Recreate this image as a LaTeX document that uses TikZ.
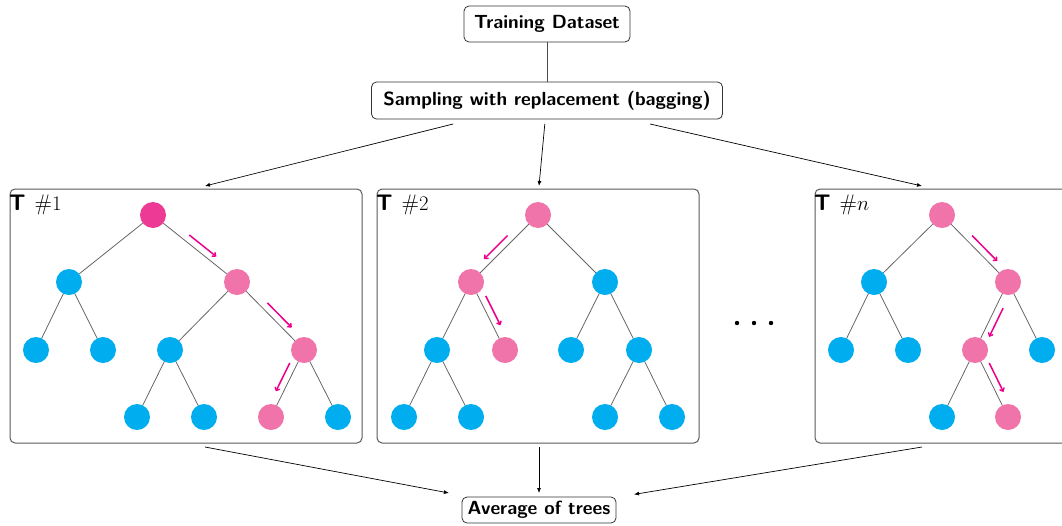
\documentclass[tikz,border=0pt]{standalone}
\usepackage{fontspec}
\usetikzlibrary{calc,arrows.meta}
\definecolor{treecyan}{HTML}{00ADEF}
\definecolor{treepink}{HTML}{F074A9}
\definecolor{treeroot}{HTML}{EC3A95}
\definecolor{pathmag}{HTML}{EC008C}
\begin{document}
\begin{tikzpicture}[x=1pt,y=-1pt,
  title/.style={draw=black!80, rounded corners=5pt, font=\fontsize{19}{22}\selectfont\sffamily\bfseries, inner sep=0pt, outer sep=0pt, line width=0.8pt},
  frame/.style={draw=black!65, rounded corners=5pt, line width=1pt, inner sep=0pt, outer sep=0pt},
  leaf/.style={circle, inner sep=0pt, outer sep=0pt, minimum size=26pt},
  cn/.style={leaf, fill=treecyan},
  pn/.style={leaf, fill=treepink},
  rn/.style={leaf, fill=treeroot},
  treeline/.style={draw=black!60, line width=0.8pt},
  conn/.style={draw=black, line width=0.7pt, -{Latex[length=5pt,width=4pt]}},
  walk/.style={draw=pathmag, line width=1.5pt, -{To[length=4pt,width=6pt]}},
  tlabel/.style={anchor=west, inner sep=0pt, font=\fontsize{22.5}{26}\selectfont},
]
\clip (0,0) rectangle (1062,525);
\useasboundingbox (0,0) rectangle (1062,525);

% top
\node[title, minimum width=166pt, minimum height=36pt] (train) at (547,24) {Training Dataset};
\node[title, minimum width=351pt, minimum height=37pt, outer ysep=5pt] (samp) at (547,100.5) {Sampling with replacement (bagging)};
\draw[black!70, line width=0.8pt, shorten >=-5pt] (train) -- (samp);

% frames
\node[frame, minimum width=352pt, minimum height=254pt] (box1) at (186,316) {};
\node[frame, minimum width=322pt, minimum height=254pt] (box2) at (538,316) {};
\node[frame, minimum width=352pt, minimum height=254pt] (box3) at (991,316) {};

\node[tlabel] (lab1) at (9,205) {{\sffamily\bfseries T}\hspace{0.4em}$\#1$};
\node[tlabel] (lab2) at (376,205) {{\sffamily\bfseries T}\hspace{0.4em}$\#2$};
\node[tlabel] (lab3) at (814,205) {{\sffamily\bfseries T}\hspace{0.4em}$\#n$};

% connectors
\coordinate (in1) at (205,186);
\coordinate (in2) at (539,186);
\coordinate (in3) at (922,186);
\draw[conn] (samp) -- (in1);
\draw[conn] (samp) -- (in2);
\draw[conn] (samp) -- (in3);

\node[title, minimum width=154pt, minimum height=26pt, outer xsep=18pt, outer ysep=4pt] (avg) at (539,510) {Average of trees};
\coordinate (out1) at (205,447);
\coordinate (out2) at (539,447);
\coordinate (out3) at (922,447);
\draw[conn] (out1) -- (avg);
\draw[conn] (out2) -- (avg);
\draw[conn] (out3) -- (avg);

% tree 1
\node[rn] (a) at (153,215) {};
\node[cn] (aL) at (69,282) {};
\node[pn] (aR) at (237,282) {};
\node[cn] (aLL) at (36,350) {};
\node[cn] (aLR) at (103,350) {};
\node[cn] (aRL) at (170,350) {};
\node[pn] (aRR) at (304,350) {};
\node[cn] (aRLL) at (137,417) {};
\node[cn] (aRLR) at (204,417) {};
\node[pn] (aRRL) at (271,417) {};
\node[cn] (aRRR) at (338,417) {};
\draw[treeline] (a) -- (aL) (a) -- (aR) (aL) -- (aLL) (aL) -- (aLR)
  (aR) -- (aRL) (aR) -- (aRR) (aRL) -- (aRLL) (aRL) -- (aRLR)
  (aRR) -- (aRRL) (aRR) -- (aRRR);
\draw[walk] ($(a)!0.38!(aR)!7pt!90:(aR)$) -- ($(a)!0.70!(aR)!7pt!90:(aR)$);
\draw[walk] ($(aR)!0.38!(aRR)!7pt!90:(aRR)$) -- ($(aR)!0.74!(aRR)!7pt!90:(aRR)$);
\draw[walk] ($(aRR)!0.24!(aRRL)!7pt!-90:(aRRL)$) -- ($(aRR)!0.66!(aRRL)!7pt!-90:(aRRL)$);

% tree 2
\node[pn] (b) at (538,215) {};
\node[pn] (bL) at (471,282) {};
\node[cn] (bR) at (605,282) {};
\node[cn] (bLL) at (437,350) {};
\node[pn] (bLR) at (505,350) {};
\node[cn] (bRL) at (571,350) {};
\node[cn] (bRR) at (639,350) {};
\node[cn] (bLLL) at (404,417) {};
\node[cn] (bLLR) at (471,417) {};
\node[cn] (bRRL) at (605,417) {};
\node[cn] (bRRR) at (672,417) {};
\draw[treeline] (b) -- (bL) (b) -- (bR) (bL) -- (bLL) (bL) -- (bLR)
  (bR) -- (bRL) (bR) -- (bRR) (bLL) -- (bLLL) (bLL) -- (bLLR)
  (bRR) -- (bRRL) (bRR) -- (bRRR);
\draw[walk] ($(b)!0.38!(bL)!7pt!-90:(bL)$) -- ($(b)!0.73!(bL)!7pt!-90:(bL)$);
\draw[walk] ($(bL)!0.25!(bLR)!7pt!90:(bLR)$) -- ($(bL)!0.68!(bLR)!7pt!90:(bLR)$);

% dots
\fill (737,323) circle (2.2pt);
\fill (754,323) circle (2.2pt);
\fill (771,323) circle (2.2pt);

% tree n
\node[pn] (c) at (942,215) {};
\node[cn] (cL) at (874,282) {};
\node[pn] (cR) at (1008,282) {};
\node[cn] (cLL) at (841,350) {};
\node[cn] (cLR) at (908,350) {};
\node[pn] (cRL) at (975,350) {};
\node[cn] (cRR) at (1042,350) {};
\node[cn] (cRLL) at (942,417) {};
\node[pn] (cRLR) at (1008,417) {};
\draw[treeline] (c) -- (cL) (c) -- (cR) (cL) -- (cLL) (cL) -- (cLR)
  (cR) -- (cRL) (cR) -- (cRR) (cRL) -- (cRLL) (cRL) -- (cRLR);
\draw[walk] ($(c)!0.38!(cR)!7pt!90:(cR)$) -- ($(c)!0.76!(cR)!7pt!90:(cR)$);
\draw[walk] ($(cR)!0.34!(cRL)!7pt!90:(cRL)$) -- ($(cR)!0.76!(cRL)!7pt!90:(cRL)$);
\draw[walk] ($(cRL)!0.24!(cRLR)!7pt!90:(cRLR)$) -- ($(cRL)!0.67!(cRLR)!7pt!90:(cRLR)$);
\end{tikzpicture}
\end{document}
